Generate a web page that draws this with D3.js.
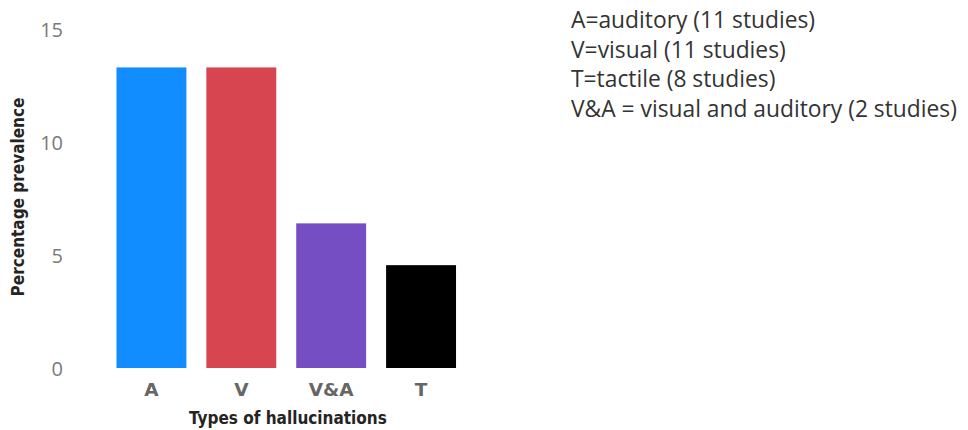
<!DOCTYPE html>
<html><head><meta charset="utf-8">
<script src="https://cdn.jsdelivr.net/npm/d3@7"></script>
<style>body{margin:0;background:#fff;} svg{display:block;}</style>
</head><body>
<svg id="chart" width="968" height="430"></svg>
<script>
const categories = ["A", "V", "V&A", "T"];
const values = [13.3, 13.3, 6.4, 4.55];
const colors = ["#118DFF", "#D64550", "#744EC2", "#000000"];
const yTicks = [0, 5, 10, 15];
const legendLines = [
  "A=auditory (11 studies)",
  "V=visual (11 studies)",
  "T=tactile (8 studies)",
  "V&A = visual and auditory (2 studies)"
];
const xTitle = "Types of hallucinations";
const yTitle = "Percentage prevalence";

const svg = d3.select("#chart");
const x = d3.scaleBand().domain(categories).range([106.5, 466]).paddingInner(0.222).paddingOuter(0.111);
const y = d3.scaleLinear().domain([0, 15]).range([368, 29]);

const condensed = "'Liberation Sans Narrow','DejaVu Sans Condensed','Roboto',sans-serif";

// y axis
const yAxis = svg.append("g").attr("transform", "translate(63,0)")
  .call(d3.axisLeft(y).tickValues(yTicks).tickSize(0).tickPadding(0));
yAxis.select(".domain").remove();
yAxis.selectAll("text").attr("font-family", "'Open Sans','Noto Sans',sans-serif")
  .attr("font-size", 20).attr("fill", "#7a7a7a").attr("dy", "0.35em");

// bars
svg.append("g").selectAll("rect").data(categories).join("rect")
  .attr("x", d => x(d)).attr("width", x.bandwidth())
  .attr("y", (d, i) => y(values[i])).attr("height", (d, i) => y(0) - y(values[i]))
  .attr("fill", (d, i) => colors[i]);

// x axis
const xAxis = svg.append("g").attr("transform", `translate(0,${y(0)})`)
  .call(d3.axisBottom(x).tickSize(0).tickPadding(15));
xAxis.select(".domain").remove();
xAxis.selectAll("text").attr("font-family", "'DejaVu Sans',sans-serif").attr("font-weight", "bold")
  .attr("font-size", 18.5).attr("fill", "#666");

// titles
svg.append("text").attr("x", 288).attr("y", 424).attr("text-anchor", "middle")
  .attr("font-family", condensed).attr("font-weight", "bold").attr("font-size", 17)
  .attr("fill", "#252423").text(xTitle);
svg.append("text").attr("transform", "translate(24,197) rotate(-90)").attr("text-anchor", "middle")
  .attr("font-family", condensed).attr("font-weight", "bold").attr("font-size", 17)
  .attr("fill", "#252423").text(yTitle);

// legend text
svg.append("g").selectAll("text").data(legendLines).join("text")
  .attr("x", 571).attr("y", (d, i) => 28 + i * 29.5)
  .attr("font-family", "'Open Sans','Noto Sans',sans-serif").attr("font-size", 22.8)
  .attr("fill", "#333").text(d => d);
</script>
</body></html>
